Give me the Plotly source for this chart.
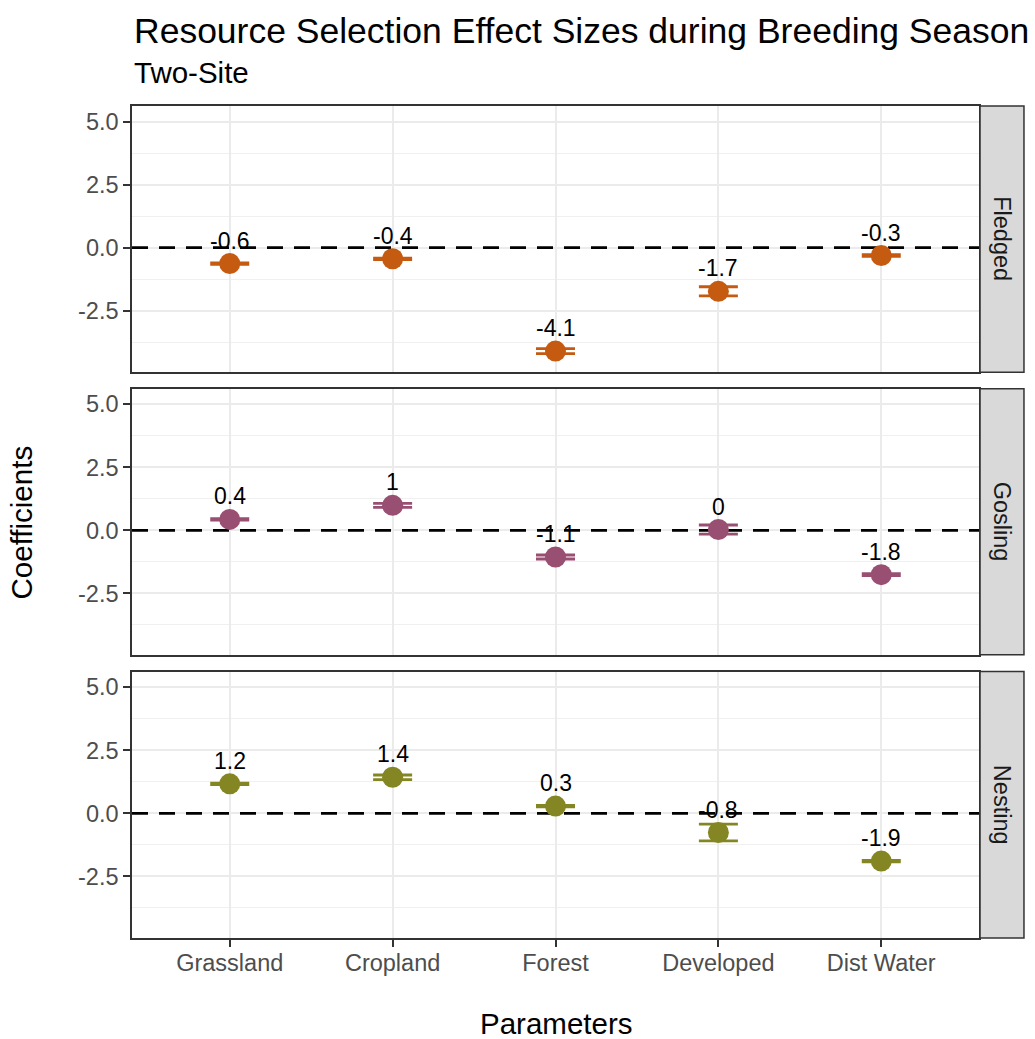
import plotly.graph_objects as go

# ---- data ----
params = ["Grassland", "Cropland", "Forest", "Developed", "Dist Water"]
stages = ["Fledged", "Gosling", "Nesting"]

fledged_coef = [-0.63, -0.44, -4.10, -1.73, -0.31]
fledged_lower = [-0.66, -0.47, -4.20, -1.91, -0.34]
fledged_upper = [-0.60, -0.41, -4.00, -1.55, -0.28]

gosling_coef = [0.43, 0.99, -1.06, 0.03, -1.76]
gosling_lower = [0.40, 0.91, -1.14, -0.15, -1.80]
gosling_upper = [0.46, 1.07, -0.98, 0.21, -1.72]

nesting_coef = [1.17, 1.43, 0.29, -0.76, -1.89]
nesting_lower = [1.14, 1.34, 0.26, -1.09, -1.92]
nesting_upper = [1.20, 1.52, 0.32, -0.43, -1.86]

y_tickvals = [-2.5, 0.0, 2.5, 5.0]
y_ticktext = ["-2.5", "0.0", "2.5", "5.0"]
ref_line_y = 0.0

title_text = "Resource Selection Effect Sizes during Breeding Season"
subtitle_text = "Two-Site"
x_title = "Parameters"
y_title = "Coefficients"

series = {
    "Fledged": (fledged_coef, fledged_lower, fledged_upper),
    "Gosling": (gosling_coef, gosling_lower, gosling_upper),
    "Nesting": (nesting_coef, nesting_lower, nesting_upper),
}
colors = {"Fledged": "#C55A11", "Gosling": "#994F72", "Nesting": "#838622"}

FONT = "Liberation Sans, Arial, Helvetica, sans-serif"
domains = [[0.6800, 1.0], [0.3404, 0.6603], [0.0, 0.3202]]
yrange = [-4.94, 5.62]
xpos = list(range(1, len(params) + 1))          # discrete positions of categories
xrange = [0.4, len(params) + 0.6]               # ggplot-style discrete expansion

fig = go.Figure()
annotations = []
shapes = []
layout_axes = {}

for i, stage in enumerate(stages):
    coef, lo, hi = series[stage]
    sfx = "" if i == 0 else str(i + 1)
    xa, ya = "x" + sfx, "y" + sfx
    c = colors[stage]
    # dashed reference line (drawn first, under the points, above grid)
    fig.add_trace(go.Scatter(
        x=xrange, y=[ref_line_y, ref_line_y], mode="lines", xaxis=xa, yaxis=ya,
        line=dict(color="black", width=2.7, dash="16px,11px"),
        showlegend=False, hoverinfo="skip", cliponaxis=True))
    fig.add_trace(go.Scatter(
        x=xpos, y=coef, mode="markers", xaxis=xa, yaxis=ya,
        marker=dict(size=21, color=c),
        error_y=dict(type="data", symmetric=False,
                     array=[h - v for h, v in zip(hi, coef)],
                     arrayminus=[v - l for v, l in zip(coef, lo)],
                     color=c, thickness=2.8, width=19.5),
        text=params, showlegend=False, hovertemplate="%{text}: %{y}<extra></extra>"))
    # value labels
    for p, v in zip(xpos, coef):
        annotations.append(dict(x=p, y=v, xref=xa, yref=ya, text=f"{round(v, 1):g}",
                                showarrow=False, yshift=23,
                                font=dict(family=FONT, size=23, color="black")))
    # strip
    d0, d1 = domains[i]
    shapes.append(dict(type="rect", xref="paper", yref="paper", x0=1.0012, x1=1.0531,
                       y0=d0, y1=d1, fillcolor="#D9D9D9",
                       line=dict(color="#333333", width=1.5), layer="above"))
    annotations.append(dict(x=1.0271, y=(d0 + d1) / 2, xref="paper", yref="paper",
                            xanchor="center", yanchor="middle",
                            text=stage, showarrow=False, textangle=90,
                            font=dict(family=FONT, size=23.5, color="#1A1A1A")))
    bottom = (i == len(stages) - 1)
    layout_axes["xaxis" + sfx] = dict(
        domain=[0, 1], anchor=ya, range=xrange,
        tickvals=xpos, ticktext=params,
        showgrid=True, gridcolor="#EBEBEB", gridwidth=2,
        showline=True, linecolor="#333333", linewidth=1.5, mirror=True,
        ticks="outside" if bottom else "", ticklen=7, tickwidth=1.5, tickcolor="#333333",
        showticklabels=bottom, ticklabelstandoff=-4,
        tickfont=dict(family=FONT, size=23.5, color="#4D4D4D"), zeroline=False)
    layout_axes["yaxis" + sfx] = dict(
        domain=[d0, d1], anchor=xa, range=yrange,
        tickvals=y_tickvals, ticktext=y_ticktext,
        showgrid=True, gridcolor="#EBEBEB", gridwidth=2,
        minor=dict(tickvals=[-3.75, -1.25, 1.25, 3.75], showgrid=True,
                   gridcolor="#F0F0F0", gridwidth=1.2, ticks=""),
        showline=True, linecolor="#333333", linewidth=1.5, mirror=True,
        ticks="outside", ticklen=7, tickwidth=1.5, tickcolor="#333333",
        tickfont=dict(family=FONT, size=23.5, color="#4D4D4D"), zeroline=False)

# titles
annotations.append(dict(x=0, y=1.0905, xref="paper", yref="paper", xanchor="left", yanchor="middle",
                        text=title_text, showarrow=False,
                        font=dict(family=FONT, size=35.5, color="black")))
annotations.append(dict(x=0, y=1.0397, xref="paper", yref="paper", xanchor="left", yanchor="middle",
                        text=subtitle_text, showarrow=False,
                        font=dict(family=FONT, size=29.5, color="black")))
annotations.append(dict(x=-0.1305, y=0.5, xref="paper", yref="paper", xanchor="center", yanchor="middle",
                        text=y_title, showarrow=False, textangle=-90,
                        font=dict(family=FONT, size=29.5, color="black")))
annotations.append(dict(x=0.5, y=-0.103, xref="paper", yref="paper", xanchor="center", yanchor="middle",
                        text=x_title, showarrow=False,
                        font=dict(family=FONT, size=29.5, color="black")))

fig.update_layout(
    width=1035, height=1039, autosize=False,
    margin=dict(l=132, r=56, t=106, b=101),
    paper_bgcolor="white", plot_bgcolor="white",
    annotations=annotations, shapes=shapes,
    font=dict(family=FONT),
    **layout_axes)

fig.write_html("out.html")
